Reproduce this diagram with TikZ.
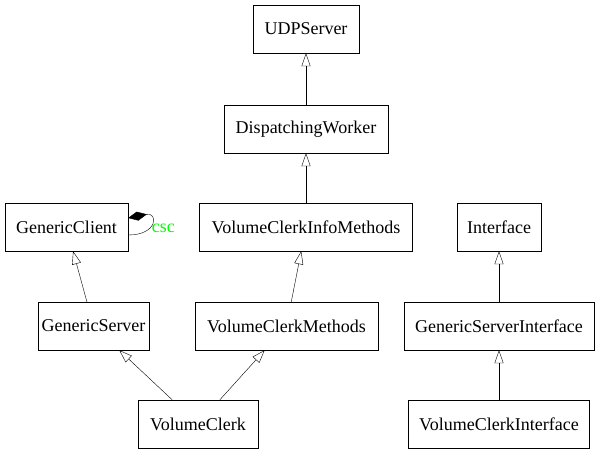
\documentclass[tikz,border=0pt]{standalone}
\usepackage{fontspec}
\setmainfont{Liberation Serif}
\usetikzlibrary{arrows.meta}
\definecolor{cscgreen}{RGB}{0,255,0}
\tikzset{->,>={Triangle[open,length=13pt,width=9pt]},
x=1pt,y=-1pt,
line width=1.2pt,
cl/.style={rectangle,draw,minimum height=48pt,inner xsep=2pt,minimum width=#1,font=\fontsize{18}{22}\selectfont},
el/.style={font=\fontsize{18}{22}\selectfont,text=cscgreen,inner sep=0pt},
agg/.style={{Diamond[length=19pt,width=9pt]}-},
}
\begin{document}
\begin{tikzpicture}
	\useasboundingbox (0,0) rectangle (601,455);

	\node[cl=106pt] (udp) at (306,29) {UDPServer};
	\node[cl=164pt] (dw) at (306,129) {DispatchingWorker};
	\node[cl=123pt] (gc) at (66.5,227) {GenericClient};
	\node[cl=213pt] (vcim) at (306,227) {VolumeClerkInfoMethods};
	\node[cl=84pt] (iface) at (499,227) {Interface};
	\node[cl=111pt] (gs) at (93.5,326) {GenericServer};
	\node[cl=183pt] (vcm) at (286.5,326) {VolumeClerkMethods};
	\node[cl=190pt] (gsi) at (499,326) {GenericServerInterface};
	\node[cl=120pt] (vc) at (198,424) {VolumeClerk};
	\node[cl=181pt] (vci) at (499,424) {VolumeClerkInterface};

	\path
	(dw) edge (udp)
	(vcim) edge (dw)
	(gs) edge (gc)
	(vcm) edge (vcim)
	(vc) edge (gs)
	(vc) edge (vcm)
	(gsi) edge (iface)
	(vci) edge (gsi)
	;

	% self reference
	\draw[agg] ([yshift=9pt]gc.east) .. controls +(30,-6) and +(30,0) .. ([yshift=-8pt]gc.east)
		node[el,pos=.5,anchor=west,xshift=1pt,yshift=-4pt] {csc};
\end{tikzpicture}
\end{document}
